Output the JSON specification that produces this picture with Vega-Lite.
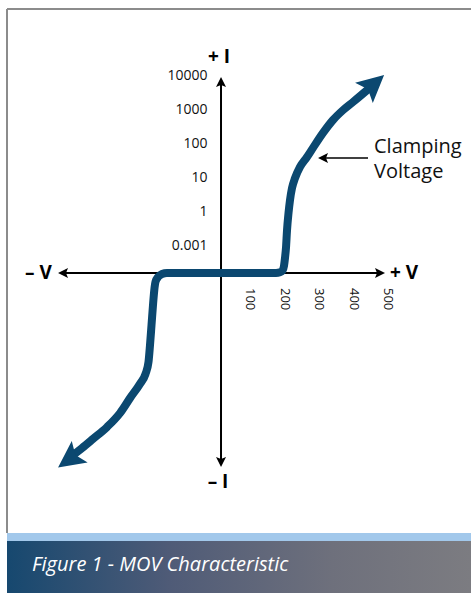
{
  "$schema": "https://vega.github.io/schema/vega-lite/v6.json",
  "padding": {"left": 6, "top": 8, "right": 0, "bottom": 0},
  "spacing": 0,
  "bounds": "flush",
  "background": "white",
  "config": {"view": {"stroke": null}, "font": "Open Sans"},
  "vconcat": [
    {
      "width": 464,
      "height": 524,
      "encoding": {
        "x": {"field": "v", "type": "quantitative", "scale": {"domain": [-622.1, 726.7], "nice": false, "zero": false}, "axis": null},
        "y": {"field": "d", "type": "quantitative", "scale": {"domain": [-7.647, 7.765], "nice": false, "zero": false}, "axis": null}
      },
      "layer": [
        {
          "data": {"values": [{}]},
          "mark": {"type": "rule", "color": "#8c8c8c", "strokeWidth": 2},
          "encoding": {"x": {"value": 0}, "y": {"value": 0}, "y2": {"value": "height"}}
        },
        {
          "data": {"values": [{}]},
          "mark": {"type": "rule", "color": "#8c8c8c", "strokeWidth": 2},
          "encoding": {"x": {"value": 0}, "x2": {"value": "width"}, "y": {"value": 0}}
        },
        {
          "data": {"values": [
            {"axis": "V", "v": -459.3, "v2": 462.2, "d": 0, "d2": 0},
            {"axis": "I", "v": 0, "v2": 0, "d": 5.62, "d2": -5.56}
          ]},
          "mark": {"type": "rule", "color": "#000000", "strokeWidth": 2},
          "encoding": {"x2": {"field": "v2"}, "y2": {"field": "d2"}}
        },
        {
          "data": {"values": [
            {"v": 296.5, "v2": 427.3, "d": 3.38}
          ]},
          "mark": {"type": "rule", "color": "#000000", "strokeWidth": 1.5},
          "encoding": {"x2": {"field": "v2"}}
        },
        {
          "data": {"values": [
            {"v": -433.1, "d": -5.38}, {"v": -404.1, "d": -5.15}, {"v": -372.1, "d": -4.88}, {"v": -331.4, "d": -4.53},
            {"v": -293.6, "d": -4.12}, {"v": -264.5, "d": -3.68}, {"v": -235.5, "d": -3.26}, {"v": -219.5, "d": -2.97},
            {"v": -210.8, "d": -2.62}, {"v": -206.4, "d": -2.12}, {"v": -202.0, "d": -1.53}, {"v": -197.7, "d": -0.94},
            {"v": -193.9, "d": -0.50}, {"v": -190.4, "d": -0.26}, {"v": -183.1, "d": -0.12}, {"v": -171.5, "d": -0.03},
            {"v": -157.0, "d": 0}, {"v": 0, "d": 0}, {"v": 159.9, "d": 0}, {"v": 171.5, "d": 0.02},
            {"v": 178.8, "d": 0.07}, {"v": 183.1, "d": 0.21}, {"v": 186.0, "d": 0.44}, {"v": 189.0, "d": 0.76},
            {"v": 191.9, "d": 1.26}, {"v": 196.2, "d": 1.76}, {"v": 200.6, "d": 2.15}, {"v": 206.4, "d": 2.5},
            {"v": 215.1, "d": 2.79}, {"v": 229.7, "d": 3.12}, {"v": 250.0, "d": 3.41}, {"v": 267.4, "d": 3.68},
            {"v": 296.5, "d": 4.12}, {"v": 325.6, "d": 4.5}, {"v": 354.7, "d": 4.79}, {"v": 383.7, "d": 5.03},
            {"v": 439.0, "d": 5.5}
          ]},
          "mark": {"type": "line", "color": "#0b4870", "strokeWidth": 8, "interpolate": "monotone", "strokeCap": "butt"}
        },
        {
          "data": {"values": [
            {"end": "upper", "v": 444.8, "d": 5.56, "dir": 48.7},
            {"end": "lower", "v": -442.2, "d": -5.49, "dir": 233.7}
          ]},
          "mark": {"type": "point", "shape": "M0,-1L1,1L0,0.6L-1,1Z", "filled": true, "size": 720, "color": "#0b4870", "opacity": 1},
          "encoding": {"angle": {"field": "dir", "type": "quantitative", "scale": null}}
        },
        {
          "data": {"values": [
            {"end": "-V", "v": -459.3, "d": 0, "dir": 270},
            {"end": "+V", "v": 462.2, "d": 0, "dir": 90},
            {"end": "+I", "v": 0, "d": 5.62, "dir": 0},
            {"end": "-I", "v": 0, "d": -5.56, "dir": 180},
            {"end": "clamp", "v": 296.5, "d": 3.38, "dir": 270}
          ]},
          "mark": {"type": "point", "shape": "M0,-1L1,1L0,0.6L-1,1Z", "filled": true, "size": 100, "color": "#000000", "opacity": 1},
          "encoding": {"angle": {"field": "dir", "type": "quantitative", "scale": null}}
        },
        {
          "data": {"values": [
            {"label": "0.001", "v": -39.2, "d": 0.80}, {"label": "1", "v": -39.2, "d": 1.79}, {"label": "10", "v": -39.2, "d": 2.78},
            {"label": "100", "v": -39.2, "d": 3.78}, {"label": "1000", "v": -39.2, "d": 4.78}, {"label": "10000", "v": -39.2, "d": 5.78}
          ]},
          "mark": {"type": "text", "align": "right", "baseline": "middle", "fontSize": 14, "color": "#111111"},
          "encoding": {"text": {"field": "label"}}
        },
        {
          "data": {"values": [
            {"label": "100", "v": 100, "d": 0}, {"label": "200", "v": 200, "d": 0}, {"label": "300", "v": 300, "d": 0},
            {"label": "400", "v": 400, "d": 0}, {"label": "500", "v": 500, "d": 0}
          ]},
          "mark": {"type": "text", "align": "left", "baseline": "middle", "angle": 90, "dx": 15, "dy": 5, "fontSize": 13, "color": "#111111"},
          "encoding": {"text": {"field": "label"}}
        },
        {
          "data": {"values": [
            {"label": "+ I", "v": -5.8, "d": 6.34}, {"label": "– I", "v": -8.7, "d": -6.15},
            {"label": "– V", "v": -530.5, "d": 0}, {"label": "+ V", "v": 532, "d": 0}
          ]},
          "mark": {"type": "text", "align": "center", "baseline": "middle", "fontSize": 19, "fontWeight": "bold", "color": "#000000"},
          "encoding": {"text": {"field": "label"}}
        },
        {
          "data": {"values": [{"label": "Clamping\nVoltage", "v": 444.8, "d": 3.53}]},
          "mark": {"type": "text", "align": "left", "baseline": "alphabetic", "fontSize": 20, "lineBreak": "\n", "lineHeight": 25, "color": "#111111"},
          "encoding": {"text": {"field": "label"}}
        }
      ]
    },
    {
      "width": 464,
      "height": 60,
      "data": {"values": [{"caption": "Figure 1 - MOV Characteristic"}]},
      "layer": [
        {
          "mark": {"type": "rect", "fill": "#a2c8eb"},
          "encoding": {"x": {"value": 0}, "x2": {"value": "width"}, "y": {"value": 0}, "y2": {"value": 8}}
        },
        {
          "mark": {"type": "rect", "fill": {"gradient": "linear", "stops": [
            {"offset": 0, "color": "#16486f"},
            {"offset": 0.35, "color": "#4f5b77"},
            {"offset": 0.7, "color": "#6e707c"},
            {"offset": 1, "color": "#7c7c81"}
          ]}},
          "encoding": {"x": {"value": 0}, "x2": {"value": "width"}, "y": {"value": 8}, "y2": {"value": "height"}}
        },
        {
          "mark": {"type": "text", "color": "#ffffff", "fontStyle": "italic", "fontSize": 20, "align": "left", "baseline": "alphabetic", "font": "Open Sans"},
          "encoding": {"text": {"field": "caption"}, "x": {"value": 25}, "y": {"value": 38}}
        }
      ]
    }
  ]
}
